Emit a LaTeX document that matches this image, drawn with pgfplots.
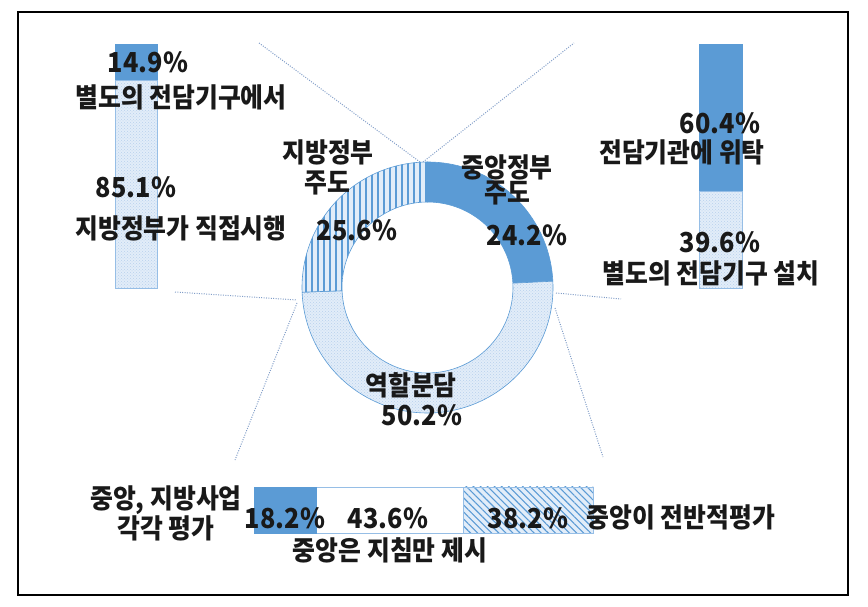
\documentclass[border=0pt]{standalone}
\usepackage{fontspec}
\setmainfont{Noto Sans CJK KR}[FakeStretch=0.92]
\usepackage{pgfplots}
\pgfplotsset{compat=1.18}
\usetikzlibrary{patterns,patterns.meta}
\definecolor{solidblue}{RGB}{91,155,213}
\definecolor{paleblue}{RGB}{226,237,249}
\definecolor{dotblue}{RGB}{184,208,236}
\definecolor{edgeblue}{RGB}{150,190,230}
\definecolor{dotline}{RGB}{130,158,200}
\definecolor{ink}{RGB}{25,25,25}

% ring segment: start (percent), share (percent), style
\newcommand{\ring}[3]{%
  \path[#3] (axis cs:427.5,287.5) ++({90-3.6*#1}:125.5pt)
    arc[start angle={90-3.6*#1}, end angle={90-3.6*(#1+#2)}, radius=125.5pt]
    -- ++({270-3.6*(#1+#2)}:40pt)
    arc[start angle={90-3.6*(#1+#2)}, end angle={90-3.6*#1}, radius=85.5pt]
    -- cycle;}

\pgfplotsset{
  barbox/.style={scale only axis, anchor=south west, hide axis, clip=false},
  guide/.style={dotline, line width=1pt, dash pattern=on 1pt off 1.4pt},
}
\tikzset{
  lab/.style={font=\fontsize{27}{30}\selectfont\bfseries, text=ink, inner sep=0pt},
  pct/.style={font=\fontsize{27.5}{32}\selectfont\bfseries, text=ink, inner sep=0pt},
}

\begin{document}
\begin{tikzpicture}
% left bar
\begin{axis}[barbox, at={(115pt,319pt)}, width=42pt, height=244pt,
    xmin=-0.5, xmax=0.5, ymin=0, ymax=100, ybar stacked, bar width=42pt]
\addplot[fill=paleblue, draw=edgeblue,
    postaction={pattern=crosshatch dots, pattern color=dotblue}]
    coordinates {(0,85.1)};
\addplot[fill=solidblue, draw=solidblue] coordinates {(0,14.9)};
\end{axis}
% right bar
\begin{axis}[barbox, at={(699pt,319pt)}, width=43pt, height=244pt,
    xmin=-0.5, xmax=0.5, ymin=0, ymax=100, ybar stacked, bar width=43pt]
\addplot[fill=paleblue, draw=edgeblue,
    postaction={pattern=crosshatch dots, pattern color=dotblue}]
    coordinates {(0,39.6)};
\addplot[fill=solidblue, draw=solidblue] coordinates {(0,60.4)};
\end{axis}
% bottom bar
\begin{axis}[barbox, at={(254pt,74pt)}, width=339pt, height=46pt,
    xmin=0, xmax=100, ymin=-0.5, ymax=0.5, xbar stacked, bar width=46pt]
\addplot[fill=solidblue, draw=solidblue] coordinates {(18.2,0)};
\addplot[fill=white, draw=edgeblue] coordinates {(43.6,0)};
\addplot[fill=paleblue, draw=edgeblue,
    postaction={pattern={Lines[angle=-45, distance=5pt, line width=1.1pt]},
                pattern color=solidblue}]
    coordinates {(38.2,0)};
\end{axis}
% donut, guides and labels in pixel coordinates
\begin{axis}[at={(0,0)}, anchor=south west, scale only axis,
    width=868pt, height=607pt, xmin=0, xmax=868, ymin=0, ymax=607,
    y dir=reverse, hide axis, clip=false]
\draw[black, line width=1.5pt] (axis cs:18,12) rectangle (axis cs:848,595);

\addplot[guide] coordinates {(259,43) (420,162)};
\addplot[guide] coordinates {(423,162) (574,43)};
\addplot[guide] coordinates {(175,292) (297,300)};
\addplot[guide] coordinates {(556,293) (621,299)};
\addplot[guide] coordinates {(297,303) (235,460)};
\addplot[guide] coordinates {(555,308) (603,457)};

\ring{0}{24.2}{fill=solidblue, draw=solidblue, line width=0.6pt}
\ring{24.2}{50.2}{preaction={fill=paleblue}, pattern=crosshatch dots,
    pattern color=dotblue, draw=solidblue, line width=0.6pt}
\ring{74.4}{25.6}{preaction={fill=paleblue},
    pattern={Lines[angle=90, distance=6pt, line width=1.8pt]},
    pattern color=solidblue, draw=solidblue, line width=0.6pt}

\node[pct] at (axis cs:148,62) {14.9\%};
\node[lab] at (axis cs:181,97) {별도의 전담기구에서};
\node[pct] at (axis cs:136,187) {85.1\%};
\node[lab] at (axis cs:181,228) {지방정부가 직접시행};

\node[lab] at (axis cs:328,152) {지방정부};
\node[lab] at (axis cs:327,183) {주도};
\node[pct] at (axis cs:357,230) {25.6\%};
\node[lab] at (axis cs:507,167) {중앙정부};
\node[lab] at (axis cs:507,193) {주도};
\node[pct] at (axis cs:527,235) {24.2\%};
\node[lab] at (axis cs:411,385) {역할분담};
\node[pct] at (axis cs:422,415) {50.2\%};

\node[pct] at (axis cs:720,123) {60.4\%};
\node[lab] at (axis cs:682,152) {전담기관에 위탁};
\node[pct] at (axis cs:720,242) {39.6\%};
\node[lab] at (axis cs:711,273) {별도의 전담기구 설치};

\node[lab] at (axis cs:166,500) {중앙, 지방사업};
\node[lab] at (axis cs:166,528) {각각 평가};
\node[pct] at (axis cs:285,518) {18.2\%};
\node[pct] at (axis cs:388,518) {43.6\%};
\node[pct] at (axis cs:528,518) {38.2\%};
\node[lab] at (axis cs:681,517) {중앙이 전반적평가};
\node[lab] at (axis cs:390,550) {중앙은 지침만 제시};
\end{axis}
\pgfresetboundingbox
\path (0,0) rectangle (868pt,607pt);
\end{tikzpicture}
\end{document}
